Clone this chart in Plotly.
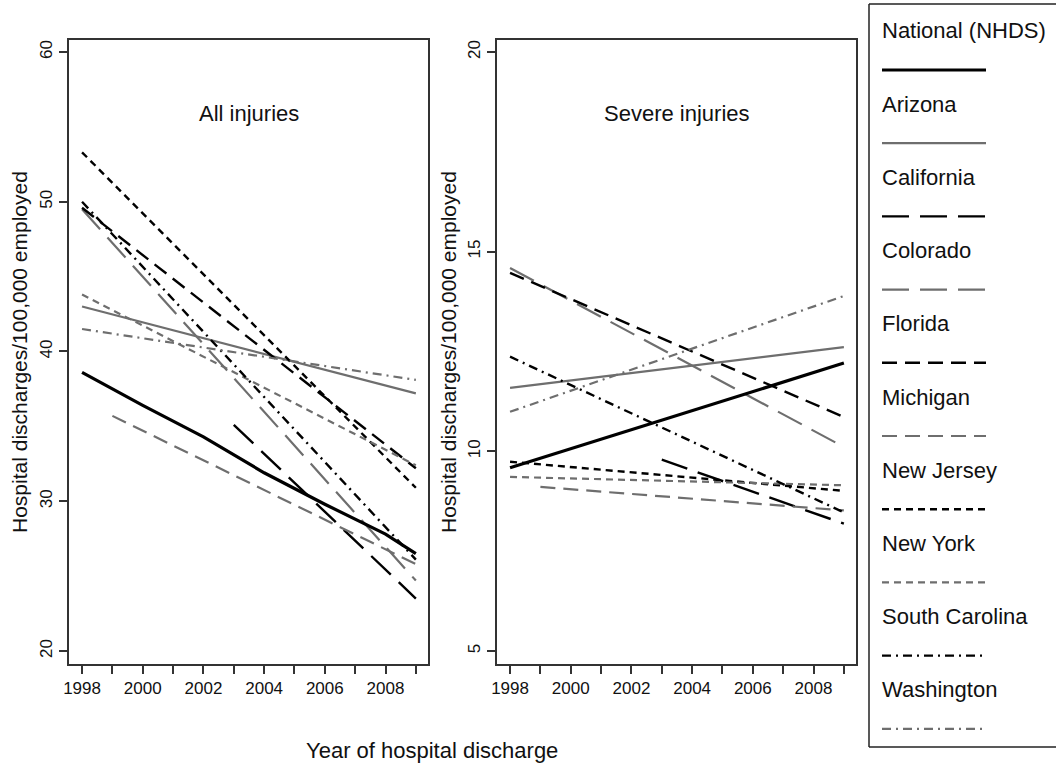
import plotly.graph_objects as go

W, H = 1056, 763

# ---------------- data ----------------
nat_all_years = [1998, 2000, 2002, 2004, 2006, 2008, 2009]
nat_all_vals = [38.6, 36.4, 34.3, 31.9, 29.8, 27.8, 26.5]
nat_sev_years = [1998, 2009]
nat_sev_vals = [9.59, 12.21]

states = ["Arizona", "California", "Colorado", "Florida", "Michigan",
          "New Jersey", "New York", "South Carolina", "Washington"]
start_year = [1998, 2003, 1998, 1998, 1999, 1998, 1998, 1998, 1998]
end_year = [2009, 2009, 2009, 2009, 2009, 2009, 2009, 2009, 2009]
all_start = [43.0, 35.1, 49.5, 49.6, 35.7, 53.3, 43.8, 50.0, 41.5]
all_end = [37.2, 23.5, 24.7, 32.2, 25.8, 30.9, 32.4, 26.1, 38.1]
sev_start = [11.59, 9.79, 14.59, 14.47, 9.11, 9.74, 9.36, 12.37, 10.99]
sev_end = [12.61, 8.19, 10.11, 10.86, 8.52, 9.01, 9.15, 8.47, 13.89]

years = list(range(1998, 2010))
xtick_text = [str(y) if y % 2 == 0 else "" for y in years]
ytick_all = [20, 30, 40, 50, 60]
ytick_sev = [5, 10, 15, 20]

legend_names = ["National (NHDS)"] + states

# ---------------- styles ----------------
BLACK = "#000000"
GRAY = "#6e6e6e"
LONG = "27px,11px"
MED = "15px,8px"
SHORT = "7px,5px"
DOTDASH = "9px,5px,2px,5px"
style = {
    "National (NHDS)": (BLACK, "solid", 3.2),
    "Arizona": (GRAY, "solid", 2.2),
    "California": (BLACK, LONG, 2.4),
    "Colorado": (GRAY, LONG, 2.2),
    "Florida": (BLACK, MED, 2.4),
    "Michigan": (GRAY, MED, 2.2),
    "New Jersey": (BLACK, SHORT, 2.4),
    "New York": (GRAY, SHORT, 2.2),
    "South Carolina": (BLACK, DOTDASH, 2.4),
    "Washington": (GRAY, DOTDASH, 2.2),
}

FONT = "Liberation Sans, Arial, sans-serif"
fig = go.Figure()


def add_line(name, xs, ys, xa, ya):
    c, d, w = style[name]
    fig.add_trace(go.Scatter(x=xs, y=ys, mode="lines", name=name,
                             line=dict(color=c, dash=d, width=w),
                             xaxis=xa, yaxis=ya, showlegend=False))


# states first, national on top
for i, s in enumerate(states):
    add_line(s, [start_year[i], end_year[i]], [all_start[i], all_end[i]], "x", "y")
    add_line(s, [start_year[i], end_year[i]], [sev_start[i], sev_end[i]], "x2", "y2")
add_line("National (NHDS)", nat_all_years, nat_all_vals, "x", "y")
add_line("National (NHDS)", nat_sev_years, nat_sev_vals, "x2", "y2")

# ---------------- axes ----------------
def px_x(p):
    return p / W


def px_y(p):
    return 1 - p / H


ydom = [px_y(664), px_y(40)]
axcommon = dict(showline=True, linecolor="#333333", linewidth=1.5, mirror=True,
                ticks="outside", ticklen=8, tickwidth=1.5, tickcolor="#333333",
                showgrid=False, zeroline=False, automargin=False,
                tickfont=dict(family=FONT, size=17, color="#111111"))

fig.update_layout(
    xaxis=dict(domain=[px_x(69), px_x(428)], range=[1997.57, 2009.4],
               tickmode="array", tickvals=years, ticktext=xtick_text,
               anchor="y", **axcommon),
    yaxis=dict(domain=ydom, range=[19.13, 60.8], tickmode="array",
               tickvals=ytick_all, tickangle=-90, anchor="x", **axcommon),
    xaxis2=dict(domain=[px_x(497), px_x(856)], range=[1997.57, 2009.4],
                tickmode="array", tickvals=years, ticktext=xtick_text,
                anchor="y2", **axcommon),
    yaxis2=dict(domain=ydom, range=[4.675, 20.3], tickmode="array",
                tickvals=ytick_sev, tickangle=-90, anchor="x2", **axcommon),
    width=W, height=H, margin=dict(l=0, r=0, t=0, b=0, pad=0),
    paper_bgcolor="white", plot_bgcolor="white",
    font=dict(family=FONT, color="#111111"),
)

ann = []
TXT = dict(family=FONT, size=22, color="#111111")
ann.append(dict(text="All injuries", x=px_x(249), y=px_y(113), xref="paper", yref="paper",
                showarrow=False, font=TXT, xanchor="center", yanchor="middle"))
ann.append(dict(text="Severe injuries", x=px_x(677), y=px_y(113), xref="paper", yref="paper",
                showarrow=False, font=TXT, xanchor="center", yanchor="middle"))
for xc in (20, 449):
    ann.append(dict(text="Hospital discharges/100,000 employed", x=px_x(xc), y=px_y(352),
                    xref="paper", yref="paper", showarrow=False, textangle=-90,
                    font=dict(family=FONT, size=21, color="#111111"),
                    xanchor="center", yanchor="middle"))
ann.append(dict(text="Year of hospital discharge", x=px_x(432), y=px_y(750),
                xref="paper", yref="paper", showarrow=False, font=TXT,
                xanchor="center", yanchor="middle"))

shapes = []
# legend box: open on the right (runs past the picture edge)
box_line = dict(color="#222222", width=1.5)
for (x0, y0, x1, y1) in [(869, 4, 1080, 4), (869, 747, 1080, 747), (869, 4, 869, 747)]:
    shapes.append(dict(type="line", xref="paper", yref="paper",
                       x0=px_x(x0), x1=px_x(x1), y0=px_y(y0), y1=px_y(y1),
                       line=box_line))
for k, name in enumerate(legend_names):
    ty = 31 + k * 73.2
    ly = ty + 39
    c, d, w = style[name]
    ann.append(dict(text=name, x=px_x(880), y=px_y(ty), xref="paper", yref="paper",
                    showarrow=False, font=TXT, xanchor="left", yanchor="middle"))
    shapes.append(dict(type="line", xref="paper", yref="paper",
                       x0=px_x(882), x1=px_x(986), y0=px_y(ly), y1=px_y(ly),
                       line=dict(color=c, dash=d, width=w)))

fig.update_layout(annotations=ann, shapes=shapes)
fig.write_html("out.html", config={"displayModeBar": False},
               post_script="document.body.style.margin='0px';document.body.style.overflow='hidden';")
